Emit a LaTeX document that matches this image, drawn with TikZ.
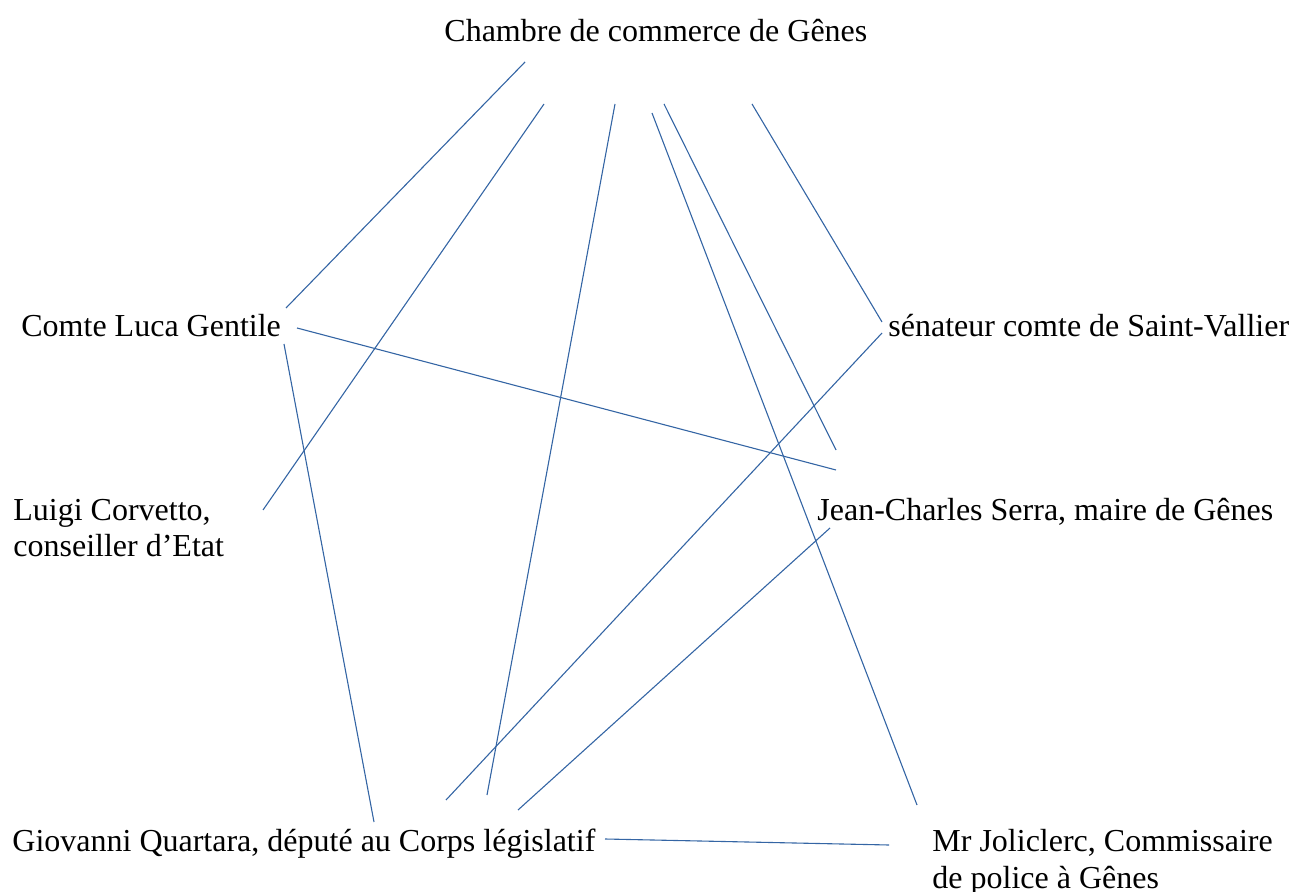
\documentclass[tikz,border=0pt]{standalone}
\usepackage{fontspec}
\setmainfont{Liberation Serif}
\usetikzlibrary{calc,positioning}
\definecolor{lienbleu}{HTML}{3465A4}
\tikzset{
  personne/.style={inner sep=0pt, anchor=base west, align=left,
    font=\fontsize{16}{18.4}\selectfont},
  lien/.style={draw=lienbleu, line width=0.55pt}
}

\begin{document}
\begin{tikzpicture}[x=0.5pt,y=-0.5pt]
\useasboundingbox (0,0) rectangle (1290,892);
% les personnes (base = derniere ligne)
\node[personne] (chambre) at (444,42) {Chambre de commerce de Gênes};
\node[personne] (gentile) at (21,337) {Comte Luca Gentile};
\node[personne] (vallier) at (888,337) {sénateur comte de Saint-Vallier};
\node[personne] (corvetto) at (13,557) {Luigi Corvetto,\\conseiller d’Etat};
\node[personne] (serra) at (817,521) {Jean-Charles Serra, maire de Gênes};
\node[personne] (quartara) at (12,851) {Giovanni Quartara, député au Corps législatif};
\node[personne] (joliclerc) at (932,888) {Mr Joliclerc, Commissaire\\de police à Gênes};
% bouts des liens
\coordinate (ch1) at (525,62);
\coordinate (ch2) at (544,104);
\coordinate (ch3) at (615,104);
\coordinate (ch4) at (652,113);
\coordinate (ch5) at (664,104);
\coordinate (ch6) at (752,104);
\coordinate (ge1) at (286,308);
\coordinate (ge2) at (297,328);
\coordinate (ge3) at (284,344);
\coordinate (va1) at (882,322);
\coordinate (va2) at (882,333);
\coordinate (co1) at (263,510);
\coordinate (se1) at (836,450);
\coordinate (se2) at (836,470);
\coordinate (se3) at (830,528);
\coordinate (qu1) at (374,822);
\coordinate (qu2) at (446,800);
\coordinate (qu3) at (487,795);
\coordinate (qu4) at (518,810);
\coordinate (qu5) at (605,839);
\coordinate (jo1) at (917,805);
\coordinate (jo2) at (889,845);
% les liens
\draw[lien] (ch1) -- (ge1);
\draw[lien] (ch2) -- (co1);
\draw[lien] (ch3) -- (qu3);
\draw[lien] (ch4) -- (jo1);
\draw[lien] (ch5) -- (se1);
\draw[lien] (ch6) -- (va1);
\draw[lien] (ge2) -- (se2);
\draw[lien] (ge3) -- (qu1);
\draw[lien] (va2) -- (qu2);
\draw[lien] (se3) -- (qu4);
\draw[lien] (qu5) -- (jo2);
\end{tikzpicture}
\end{document}
